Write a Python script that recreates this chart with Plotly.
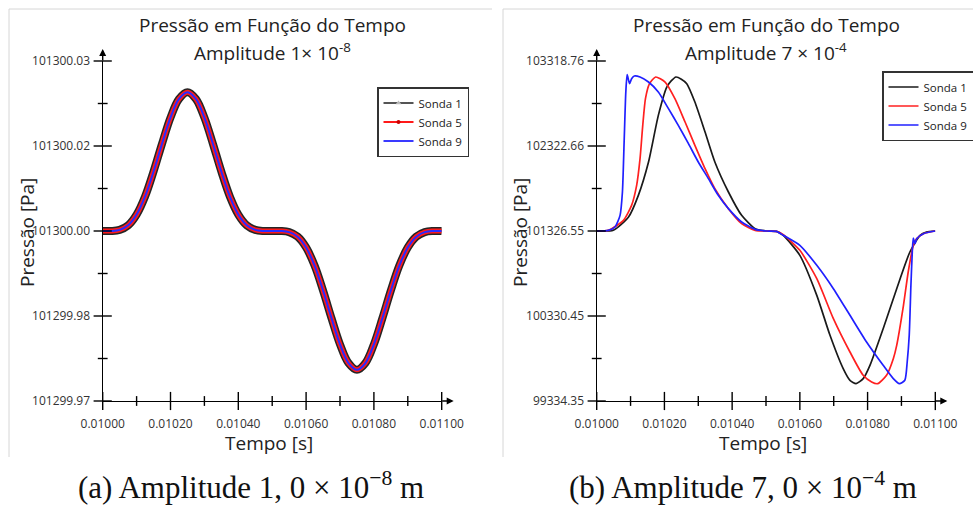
import plotly.graph_objects as go

# ---------------- data: panel (a) amplitude 1e-8 ----------------
time_a = [0.010000, 0.010025, 0.010050, 0.010075, 0.010100, 0.010125, 0.010150, 0.010175,
          0.010200, 0.010225, 0.010250, 0.010275, 0.010300, 0.010325, 0.010350, 0.010375,
          0.010400, 0.010425, 0.010450, 0.010475, 0.010500, 0.010525, 0.010550, 0.010575,
          0.010600, 0.010625, 0.010650, 0.010675, 0.010700, 0.010725, 0.010750, 0.010775,
          0.010800, 0.010825, 0.010850, 0.010875, 0.010900, 0.010925, 0.010950, 0.010975,
          0.011000]
sonda1_a = [101300.0000, 101300.0000, 101300.0002, 101300.0010, 101300.0029, 101300.0061,
            101300.0105, 101300.0154, 101300.0200, 101300.0233, 101300.0245, 101300.0233,
            101300.0200, 101300.0154, 101300.0105, 101300.0061, 101300.0029, 101300.0010,
            101300.0002, 101300.0000, 101300.0000, 101300.0000, 101299.9998, 101299.9990,
            101299.9971, 101299.9939, 101299.9895, 101299.9846, 101299.9800, 101299.9767,
            101299.9755, 101299.9767, 101299.9800, 101299.9846, 101299.9895, 101299.9939,
            101299.9971, 101299.9990, 101299.9998, 101300.0000, 101300.0000]
sonda5_a = [101300.0000, 101300.0000, 101300.0002, 101300.0010, 101300.0029, 101300.0061,
            101300.0105, 101300.0154, 101300.0200, 101300.0233, 101300.0245, 101300.0233,
            101300.0200, 101300.0154, 101300.0105, 101300.0061, 101300.0029, 101300.0010,
            101300.0002, 101300.0000, 101300.0000, 101300.0000, 101299.9998, 101299.9990,
            101299.9971, 101299.9939, 101299.9895, 101299.9846, 101299.9800, 101299.9767,
            101299.9755, 101299.9767, 101299.9800, 101299.9846, 101299.9895, 101299.9939,
            101299.9971, 101299.9990, 101299.9998, 101300.0000, 101300.0000]
sonda9_a = [101300.0000, 101300.0000, 101300.0002, 101300.0010, 101300.0029, 101300.0061,
            101300.0105, 101300.0154, 101300.0200, 101300.0233, 101300.0245, 101300.0233,
            101300.0200, 101300.0154, 101300.0105, 101300.0061, 101300.0029, 101300.0010,
            101300.0002, 101300.0000, 101300.0000, 101300.0000, 101299.9998, 101299.9990,
            101299.9971, 101299.9939, 101299.9895, 101299.9846, 101299.9800, 101299.9767,
            101299.9755, 101299.9767, 101299.9800, 101299.9846, 101299.9895, 101299.9939,
            101299.9971, 101299.9990, 101299.9998, 101300.0000, 101300.0000]

# ---------------- data: panel (b) amplitude 7e-4 ----------------
time_b_sonda1 = [0.010000, 0.010049, 0.010094, 0.010123, 0.010153, 0.010182, 0.010207, 0.010220,
                 0.010234, 0.010250, 0.010266, 0.010290, 0.010320, 0.010349, 0.010389, 0.010428,
                 0.010468, 0.010502, 0.010531, 0.010551, 0.010600, 0.010650, 0.010689, 0.010728,
                 0.010748, 0.010766, 0.010787, 0.010807, 0.010846, 0.010886, 0.010925, 0.010955,
                 0.010974, 0.011000]
sonda1_b = [101326.6, 101334.4, 101490.6, 101744.5, 102135.1, 102682.0, 103014.0, 103085.0,
            103131.2, 103106.0, 103053.1, 102838.2, 102486.7, 102135.1, 101783.6, 101510.1,
            101353.9, 101326.6, 101322.6, 101275.8, 101041.4, 100572.7, 100104.0, 99713.4,
            99576.7, 99537.6, 99596.2, 99752.5, 100182.1, 100650.8, 101080.5, 101275.8,
            101314.8, 101326.6]

time_b_sonda5 = [0.010000, 0.010034, 0.010079, 0.010103, 0.010118, 0.010128, 0.010136, 0.010144,
                 0.010156, 0.010174, 0.010202, 0.010231, 0.010261, 0.010290, 0.010320, 0.010349,
                 0.010389, 0.010428, 0.010468, 0.010502, 0.010531, 0.010551, 0.010600, 0.010650,
                 0.010699, 0.010748, 0.010787, 0.010812, 0.010830, 0.010856, 0.010876, 0.010886,
                 0.010906, 0.010920, 0.010935, 0.010945, 0.010965, 0.011000]
sonda5_b = [101326.6, 101334.4, 101451.5, 101627.3, 101861.7, 102174.2, 102564.8, 102877.3,
            103053.1, 103131.2, 103072.6, 102877.3, 102603.8, 102330.4, 102057.0, 101822.6,
            101588.2, 101412.5, 101334.4, 101326.6, 101322.6, 101283.6, 101100.0, 100768.0,
            100299.3, 99908.7, 99635.3, 99557.1, 99537.6, 99635.3, 99830.6, 99986.8,
            100455.5, 100846.1, 101158.6, 101236.7, 101295.3, 101326.6]

time_b_sonda9 = [0.010000, 0.010034, 0.010054, 0.010069, 0.010076, 0.010081, 0.010086, 0.010090,
                 0.010097, 0.010103, 0.010111, 0.010128, 0.010153, 0.010182, 0.010212, 0.010241,
                 0.010271, 0.010300, 0.010330, 0.010359, 0.010389, 0.010428, 0.010468, 0.010502,
                 0.010531, 0.010551, 0.010600, 0.010650, 0.010699, 0.010748, 0.010797, 0.010846,
                 0.010876, 0.010894, 0.010910, 0.010917, 0.010923, 0.010928, 0.010932, 0.010935,
                 0.010940, 0.010945, 0.010965, 0.011000]
sonda9_b = [101326.6, 101334.4, 101373.4, 101510.1, 101783.6, 102369.5, 102955.4, 103158.5,
            103053.1, 103111.6, 103142.9, 103131.2, 103072.6, 102955.4, 102760.1, 102564.8,
            102349.9, 102135.1, 101939.8, 101744.5, 101588.2, 101432.0, 101346.1, 101326.6,
            101322.6, 101275.8, 101158.6, 100924.2, 100650.8, 100338.4, 100025.9, 99752.5,
            99596.2, 99537.6, 99576.7, 99791.5, 100104.0, 100689.9, 101080.5, 101244.6,
            101178.2, 101236.7, 101295.3, 101326.6]

# ---------------- ticks ----------------
x_range = [0.0100, 0.0110]
x_major = [0.0100, 0.0102, 0.0104, 0.0106, 0.0108, 0.0110]
x_minor = [0.0101, 0.0103, 0.0105, 0.0107, 0.0109]
x_labels = ["0.01000", "0.01020", "0.01040", "0.01060", "0.01080", "0.01100"]

y_range_a = [101299.97, 101300.03]
y_major_a = [101299.97, 101299.985, 101300.0, 101300.015, 101300.03]
y_minor_a = [101299.9775, 101299.9925, 101300.0075, 101300.0225]
y_labels_a = ["101299.97", "101299.98", "101300.00", "101300.02", "101300.03"]

y_range_b = [99334.35, 103318.76]
y_major_b = [99334.35, 100330.45, 101326.55, 102322.66, 103318.76]
y_minor_b = [99832.40, 100828.50, 101824.605, 102820.71]
y_labels_b = ["99334.35", "100330.45", "101326.55", "102322.66", "103318.76"]

series_names = ["Sonda 1", "Sonda 5", "Sonda 9"]
title_line1 = "Pressão em Função do Tempo"
title_line2_a = "Amplitude 1× 10<sup>-8</sup>"
title_line2_b = "Amplitude 7 × 10<sup>-4</sup>"
caption_a = "(a) Amplitude 1, 0 × 10<sup>−8</sup> m"
caption_b = "(b) Amplitude 7, 0 × 10<sup>−4</sup> m"

W, H = 973, 505
FONT = "Open Sans"

fig = go.Figure()

# ---- panel (a) curves ----
fig.add_trace(go.Scatter(x=time_a, y=sonda1_a, mode="lines", xaxis="x", yaxis="y",
                         line=dict(color="rgba(25,25,25,0.95)", width=8, shape="spline"),
                         showlegend=False, hoverinfo="skip"))
fig.add_trace(go.Scatter(x=time_a, y=sonda5_a, mode="lines", xaxis="x", yaxis="y",
                         line=dict(color="#ff1a1a", width=5, shape="spline"),
                         showlegend=False, hoverinfo="skip"))
fig.add_trace(go.Scatter(x=time_a, y=sonda9_a, mode="lines", xaxis="x", yaxis="y",
                         line=dict(color="#2a2aff", width=2, shape="spline"),
                         showlegend=False, hoverinfo="skip"))
# legend entries of panel (a)
fig.add_trace(go.Scatter(x=[None], y=[None], mode="lines+markers", xaxis="x", yaxis="y",
                         name=series_names[0], legend="legend",
                         line=dict(color="#555555", width=2),
                         marker=dict(symbol="triangle-up", size=5, color="#bbbbbb")))
fig.add_trace(go.Scatter(x=[None], y=[None], mode="lines+markers", xaxis="x", yaxis="y",
                         name=series_names[1], legend="legend",
                         line=dict(color="#ff1a1a", width=2),
                         marker=dict(symbol="circle", size=4, color="#cc0000")))
fig.add_trace(go.Scatter(x=[None], y=[None], mode="lines", xaxis="x", yaxis="y",
                         name=series_names[2], legend="legend",
                         line=dict(color="#3a3aff", width=2)))

# ---- panel (b) curves ----
for t, p, name, col in [(time_b_sonda1, sonda1_b, series_names[0], "#1a1a1a"),
                        (time_b_sonda5, sonda5_b, series_names[1], "#ff2020"),
                        (time_b_sonda9, sonda9_b, series_names[2], "#2020ff")]:
    fig.add_trace(go.Scatter(x=t, y=p, mode="lines", xaxis="x2", yaxis="y2", name=name,
                             legend="legend2",
                             line=dict(color=col, width=1.7, shape="spline", smoothing=0.6),
                             hoverinfo="skip"))

# ---- tick marks crossing the axes (both panels) ----
for xa, ya, yr, ymaj, ymin_ in [("x", "y", y_range_a, y_major_a, y_minor_a),
                                ("x2", "y2", y_range_b, y_major_b, y_minor_b)]:
    fig.add_trace(go.Scatter(x=x_major, y=[yr[0]] * len(x_major), mode="markers",
                             xaxis=xa, yaxis=ya, cliponaxis=False, showlegend=False, hoverinfo="skip",
                             marker=dict(symbol="line-ns", size=13, line=dict(width=1.4, color="black"))))
    fig.add_trace(go.Scatter(x=x_minor, y=[yr[0]] * len(x_minor), mode="markers",
                             xaxis=xa, yaxis=ya, cliponaxis=False, showlegend=False, hoverinfo="skip",
                             marker=dict(symbol="line-ns", size=7, line=dict(width=1.4, color="black"))))
    fig.add_trace(go.Scatter(x=[x_range[0]] * len(ymaj), y=ymaj, mode="markers",
                             xaxis=xa, yaxis=ya, cliponaxis=False, showlegend=False, hoverinfo="skip",
                             marker=dict(symbol="line-ew", size=13, line=dict(width=1.4, color="black"))))
    fig.add_trace(go.Scatter(x=[x_range[0]] * len(ymin_), y=ymin_, mode="markers",
                             xaxis=xa, yaxis=ya, cliponaxis=False, showlegend=False, hoverinfo="skip",
                             marker=dict(symbol="line-ew", size=7, line=dict(width=1.4, color="black"))))

# ---------------- layout ----------------
ydom = [(H - 401) / H, (H - 61) / H]
xdom_a = [102.7 / W, 441.7 / W]
xdom_b = [596.7 / W, 935.3 / W]

def xaxis_cfg(dom, anchor):
    return dict(domain=dom, anchor=anchor, range=x_range, tickmode="array", tickvals=x_major,
                ticktext=x_labels, ticks="", showgrid=False, zeroline=False, showline=True,
                linecolor="black", linewidth=1.4, ticklabelstandoff=11, automargin=False,
                tickfont=dict(family=FONT, size=12, color="#333333"))

def yaxis_cfg(rng, vals, labels, anchor):
    return dict(domain=ydom, anchor=anchor, range=rng, tickmode="array", tickvals=vals,
                ticktext=labels, ticks="", showgrid=False, zeroline=False, showline=True,
                linecolor="black", linewidth=1.4, ticklabelstandoff=9, automargin=False,
                tickfont=dict(family=FONT, size=12, color="#333333"))

annotations = []
centers = [((xdom_a[0] + xdom_a[1]) / 2, title_line2_a, caption_a, 251 / W, 27 / W),
           ((xdom_b[0] + xdom_b[1]) / 2, title_line2_b, caption_b, 743 / W, 520 / W)]
for cx, line2, cap, capx, ytx in centers:
    annotations.append(dict(x=cx, y=1 - 25 / H, xref="paper", yref="paper", showarrow=False,
                            text=title_line1, font=dict(family=FONT, size=19, color="#222222"),
                            xanchor="center", yanchor="middle"))
    annotations.append(dict(x=cx, y=1 - 52 / H, xref="paper", yref="paper", showarrow=False,
                            text=line2, font=dict(family=FONT, size=19, color="#222222"),
                            xanchor="center", yanchor="middle"))
    annotations.append(dict(x=cx - 3 / W, y=1 - 443 / H, xref="paper", yref="paper", showarrow=False,
                            text="Tempo [s]", font=dict(family=FONT, size=19, color="#222222"),
                            xanchor="center", yanchor="middle"))
    annotations.append(dict(x=ytx, y=1 - 233 / H, xref="paper", yref="paper", showarrow=False,
                            text="Pressão [Pa]", textangle=-90,
                            font=dict(family=FONT, size=19, color="#222222"),
                            xanchor="center", yanchor="middle"))
    annotations.append(dict(x=capx, y=1 - 485 / H, xref="paper", yref="paper", showarrow=False,
                            text=cap, font=dict(family="Liberation Serif", size=31, color="#111111"),
                            xanchor="center", yanchor="middle"))

# axis arrowheads
for xa, ya, yr in [("x", "y", y_range_a), ("x2", "y2", y_range_b)]:
    annotations.append(dict(x=x_range[0], y=yr[1], xref=xa, yref=ya, text="", showarrow=True,
                            arrowhead=2, arrowsize=1, arrowwidth=1.4, arrowcolor="black",
                            ax=0, ay=13, yshift=12))
    annotations.append(dict(x=x_range[1], y=yr[0], xref=xa, yref=ya, text="", showarrow=True,
                            arrowhead=2, arrowsize=1, arrowwidth=1.4, arrowcolor="black",
                            ax=-13, ay=0, xshift=12))

frame_col = "#d6d6d6"
shapes = [
    dict(type="line", xref="paper", yref="paper", x0=9 / W, x1=492 / W, y0=1 - 9 / H, y1=1 - 9 / H,
         line=dict(color=frame_col, width=1)),
    dict(type="line", xref="paper", yref="paper", x0=9 / W, x1=9 / W, y0=1 - 9 / H, y1=1 - 457 / H,
         line=dict(color=frame_col, width=1)),
    dict(type="line", xref="paper", yref="paper", x0=503 / W, x1=1, y0=1 - 9 / H, y1=1 - 9 / H,
         line=dict(color=frame_col, width=1)),
    dict(type="line", xref="paper", yref="paper", x0=503 / W, x1=503 / W, y0=1 - 9 / H, y1=1 - 457 / H,
         line=dict(color=frame_col, width=1)),
]

legend_common = dict(yanchor="top", bgcolor="white", bordercolor="#333333",
                     borderwidth=1.5, font=dict(family=FONT, size=11.5, color="#222222"),
                     itemwidth=30, tracegroupgap=0)

fig.update_layout(
    width=W, height=H, margin=dict(l=0, r=0, t=0, b=0, autoexpand=False),
    paper_bgcolor="white", plot_bgcolor="white",
    xaxis=xaxis_cfg(xdom_a, "y"), yaxis=yaxis_cfg(y_range_a, y_major_a, y_labels_a, "x"),
    xaxis2=xaxis_cfg(xdom_b, "y2"), yaxis2=yaxis_cfg(y_range_b, y_major_b, y_labels_b, "x2"),
    legend=dict(x=377 / W, y=1 - 87 / H, xanchor="left", **legend_common),
    legend2=dict(x=882 / W, y=1 - 71 / H, xanchor="left", **legend_common),
    annotations=annotations, shapes=shapes, showlegend=True,
)

fig.write_html("out.html", config={"displayModeBar": False},
               post_script="document.body.style.margin='0';document.body.style.overflow='hidden';")
